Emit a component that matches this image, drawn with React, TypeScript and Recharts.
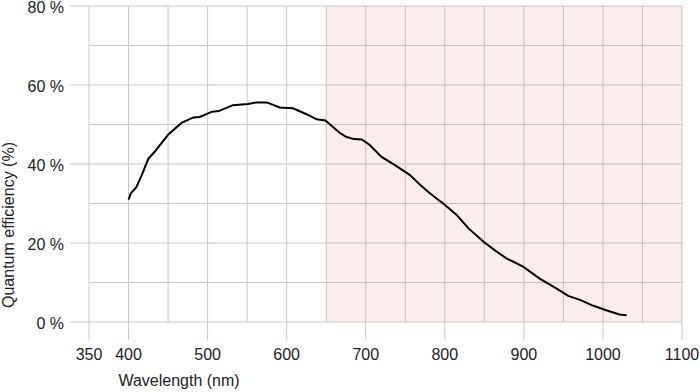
import React from "react";
import {
  LineChart,
  Line,
  XAxis,
  YAxis,
  CartesianGrid,
  ReferenceArea,
  Label,
} from "recharts";

const wavelengths = [
  400, 403, 410, 417, 425, 433, 450, 467, 482, 490, 505, 514, 532,
  551, 562, 575, 591, 608, 625, 638, 649, 667, 675, 685, 695, 705, 720, 737,
  756, 769, 780, 792, 798, 815, 830, 849, 863, 878, 899, 920, 941, 956, 971,
  988, 1005, 1021, 1030,
];
const efficiency = [
  31, 32.6, 34.2, 37.3, 41.3, 43.1, 47.4, 50.4, 51.8, 51.9, 53.2,
  53.4, 54.9, 55.2, 55.6, 55.6, 54.3, 54.1, 52.6, 51.3, 51, 47.9, 46.9, 46.3,
  46.2, 44.8, 41.8, 39.7, 37.2, 34.7, 32.8, 30.9, 30, 27.1, 23.7, 20.3, 18.2,
  16.1, 14, 11, 8.5, 6.6, 5.6, 4.1, 2.9, 1.9, 1.7,
];
const xTicks = [
  350, 400, 450, 500, 550, 600, 650, 700, 750, 800, 850, 900, 950, 1000, 1050,
  1100,
];
const xLabeledTicks = [350, 400, 500, 600, 700, 800, 900, 1000, 1100];
const yTicks = [0, 10, 20, 30, 40, 50, 60, 70, 80];
const yLabeledTicks = [0, 20, 40, 60, 80];
const nirRange = [650, 1100];

const data = wavelengths.map((w, i) => ({ w, qe: efficiency[i] }));

const FONT = "'Liberation Sans', Arial, Helvetica, sans-serif";
const TEXT = "#222222";
const GRID = "#c8c8c8";

const XTick = (props: any) => {
  const { x, y, payload } = props;
  const v = payload.value;
  if (!xLabeledTicks.includes(v)) return null;
  return (
    <g>
      <line x1={x} x2={x} y1={y} y2={y + 18} stroke={GRID} strokeWidth={1} />
      <text
        x={x}
        y={y + 32}
        textAnchor="middle"
        dominantBaseline="central"
        fontFamily={FONT}
        fontSize={16}
        fill={TEXT}
      >
        {v}
      </text>
    </g>
  );
};

const YTick = (props: any) => {
  const { x, y, payload } = props;
  const v = payload.value;
  if (!yLabeledTicks.includes(v)) return null;
  return (
    <g>
      <line x1={x - 19} x2={x} y1={y} y2={y} stroke={GRID} strokeWidth={1} />
      <text
        x={x - 25}
        y={y + 1}
        textAnchor="end"
        dominantBaseline="central"
        fontFamily={FONT}
        fontSize={16}
        fill={TEXT}
      >
        {`${v} %`}
      </text>
    </g>
  );
};

export default function App() {
  return (
    <div style={{ position: "absolute", left: 0, top: 0, width: 700, height: 392, background: "#fff" }}>
      <LineChart
        width={700}
        height={392}
        data={data}
        margin={{ top: 6, right: 18, bottom: 0, left: 0 }}
      >
        <CartesianGrid stroke={GRID} strokeWidth={1} />
        <ReferenceArea
          x1={nirRange[0]}
          x2={nirRange[1]}
          y1={0}
          y2={80}
          fill="rgb(240,128,128)"
          fillOpacity={0.134}
          stroke="none"
        />
        <XAxis
          dataKey="w"
          type="number"
          domain={[350, 1100]}
          ticks={xTicks}
          interval={0}
          height={70}
          tickSize={0}
          tickMargin={0}
          axisLine={false}
          tickLine={false}
          tick={<XTick />}
        >
          <Label
            content={() => (
              <text
                x={179}
                y={380}
                textAnchor="middle"
                dominantBaseline="central"
                fontFamily={FONT}
                fontSize={16}
                fill={TEXT}
              >
                Wavelength (nm)
              </text>
            )}
          />
        </XAxis>
        <YAxis
          type="number"
          domain={[0, 80]}
          ticks={yTicks}
          interval={0}
          width={89}
          tickSize={0}
          tickMargin={0}
          axisLine={false}
          tickLine={false}
          tick={<YTick />}
        >
          <Label
            content={() => (
              <text
                x={8}
                y={225}
                transform="rotate(-90 8 225)"
                textAnchor="middle"
                dominantBaseline="central"
                fontFamily={FONT}
                fontSize={16}
                fill={TEXT}
              >
                Quantum efficiency (%)
              </text>
            )}
          />
        </YAxis>
        <Line
          type="linear"
          dataKey="qe"
          stroke="#000"
          strokeWidth={2}
          dot={false}
          isAnimationActive={false}
        />
      </LineChart>
    </div>
  );
}
